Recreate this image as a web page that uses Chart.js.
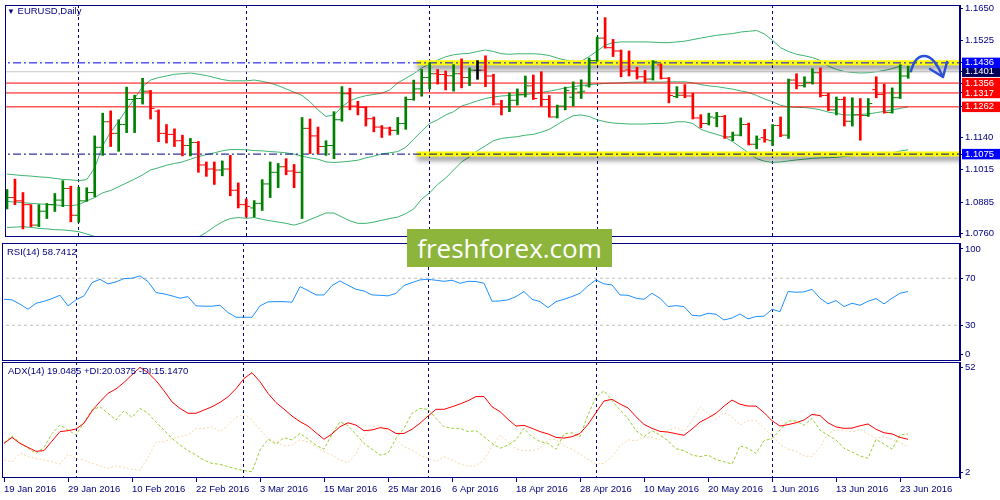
<!DOCTYPE html>
<html>
<head>
<meta charset="utf-8">
<title>EURUSD, Daily</title>
<script src="https://cdn.jsdelivr.net/npm/chart.js@4.4.1/dist/chart.umd.min.js"></script>
<style>
  html, body { margin: 0; padding: 0; background: #fff; }
  body { width: 1000px; height: 500px; position: relative; overflow: hidden; }
  .pane { position: absolute; left: 0; }
  .pane canvas { display: block; }
  .cap { position: absolute; font: 9.5px "Liberation Sans", Arial, sans-serif; color: #000080; line-height: 12px; white-space: nowrap; }
  #wm { position: absolute; left: 407px; top: 229px; width: 205px; height: 38px; background: #8db53c; color: #fff;
        font: 26px "Open Sans", sans-serif; line-height: 38px; text-align: center; }
  svg { position: absolute; left: 0; top: 0; }
</style>
</head>
<body>
<div class="pane" style="top:0"><canvas id="main" width="1000" height="242"></canvas></div>
<div class="pane" style="top:241px"><canvas id="rsi" width="1000" height="121"></canvas></div>
<div class="pane" style="top:361px"><canvas id="adx" width="1000" height="139"></canvas></div>
<div class="cap" style="left:7px;top:5px"><span style="font-size:8px">&#9660;</span> EURUSD,Daily</div>
<div class="cap" style="left:7px;top:246px">RSI(14) 58.7412</div>
<div class="cap" style="left:8px;top:365px">ADX(14) 19.0485 +DI:20.0375 -DI:15.1470</div>
<div id="wm">freshforex.com</div>
<svg width="1000" height="500">
  <path d="M911 71 C914 60, 919 56, 924 56 C930 56, 935 60, 942 75" stroke="#2b4fd6" stroke-width="2.5" fill="none" stroke-linecap="round"/>
  <path d="M930 69 L943 77 L947 62" stroke="#2b4fd6" stroke-width="2.5" fill="none" stroke-linecap="round" stroke-linejoin="round"/>
</svg>
<script>
// bar i sits on trading day i, counting from 19 Jan 2016 (114 daily bars up to 24 Jun)
const dateLabels = ['19 Jan 2016','29 Jan 2016','10 Feb 2016','22 Feb 2016','3 Mar 2016','15 Mar 2016','25 Mar 2016',
  '6 Apr 2016','18 Apr 2016','28 Apr 2016','10 May 2016','20 May 2016','1 Jun 2016','13 Jun 2016','23 Jun 2016'];
const LABEL_STEP = 8;                  // one date label every 8 bars
const monthStarts = [9, 30, 53, 74, 96]; // first bar of Feb..Jun

const opens = [
  1.0890,1.0903,1.0890,1.0875,1.0794,1.0849,1.0875,1.0893,1.0939,1.0833,
  1.0890,1.0923,1.1102,1.1203,1.1157,1.1192,1.1291,1.1295,1.1324,1.1245,
  1.1157,1.1153,1.1128,1.1109,1.1121,1.1032,1.1016,1.1012,1.1016,1.0932,
  1.0875,1.0862,1.0880,1.0957,1.1003,1.1025,1.1008,1.1003,1.1177,1.1147,
  1.1105,1.1109,1.1211,1.1314,1.1265,1.1260,1.1215,1.1182,1.1178,1.1169,
  1.1196,1.1291,1.1333,1.1378,1.1393,1.1390,1.1385,1.1393,1.1378,1.1407,
  1.1407,1.1384,1.1273,1.1262,1.1288,1.1310,1.1345,1.1318,1.1291,1.1222,
  1.1265,1.1300,1.1320,1.1345,1.1445,1.1534,1.1496,1.1483,1.1408,1.1404,
  1.1381,1.1372,1.1428,1.1375,1.1303,1.1308,1.1305,1.1218,1.1196,1.1218,
  1.1224,1.1143,1.1150,1.1192,1.1114,1.1140,1.1128,1.1188,1.1150,1.1368,
  1.1346,1.1359,1.1397,1.1307,1.1250,1.1291,1.1205,1.1230,1.1228,1.1330,
  1.1311,1.1240,1.1298,1.1384];
const highs = [
  1.0935,1.0976,1.0923,1.0875,1.0875,1.0880,1.0919,1.0970,1.0948,1.0944,
  1.0942,1.1147,1.1237,1.1246,1.1211,1.1340,1.1308,1.1375,1.1327,1.1250,
  1.1192,1.1175,1.1150,1.1137,1.1125,1.1044,1.1044,1.1048,1.1070,1.0961,
  1.0897,1.0891,1.0974,1.1044,1.1038,1.1057,1.1034,1.1220,1.1214,1.1182,
  1.1128,1.1243,1.1342,1.1336,1.1284,1.1262,1.1222,1.1188,1.1182,1.1220,
  1.1301,1.1368,1.1410,1.1436,1.1410,1.1404,1.1429,1.1452,1.1416,1.1445,
  1.1464,1.1391,1.1288,1.1317,1.1333,1.1384,1.1388,1.1401,1.1307,1.1269,
  1.1340,1.1361,1.1369,1.1455,1.1538,1.1615,1.1529,1.1487,1.1483,1.1419,
  1.1406,1.1445,1.1432,1.1378,1.1342,1.1350,1.1316,1.1231,1.1237,1.1240,
  1.1228,1.1162,1.1218,1.1198,1.1147,1.1173,1.1192,1.1222,1.1372,1.1393,
  1.1381,1.1413,1.1416,1.1316,1.1301,1.1301,1.1298,1.1295,1.1295,1.1381,
  1.1352,1.1337,1.1429,1.1423];
const lows = [
  1.0858,1.0875,1.0779,1.0788,1.0788,1.0820,1.0848,1.0867,1.0807,1.0805,
  1.0888,1.0906,1.1070,1.1105,1.1086,1.1160,1.1160,1.1273,1.1214,1.1124,
  1.1119,1.1105,1.1068,1.1068,1.1003,1.0987,1.0955,1.0989,1.0910,1.0862,
  1.0826,1.0826,1.0852,1.0903,1.0942,1.0993,1.0942,1.0820,1.1077,1.1077,
  1.1070,1.1057,1.1205,1.1250,1.1230,1.1186,1.1163,1.1141,1.1150,1.1153,
  1.1173,1.1288,1.1304,1.1333,1.1352,1.1329,1.1324,1.1337,1.1346,1.1371,
  1.1342,1.1269,1.1230,1.1243,1.1269,1.1301,1.1291,1.1265,1.1221,1.1218,
  1.1250,1.1265,1.1295,1.1340,1.1442,1.1494,1.1461,1.1381,1.1384,1.1372,
  1.1359,1.1368,1.1372,1.1278,1.1298,1.1298,1.1214,1.1179,1.1190,1.1183,
  1.1137,1.1128,1.1147,1.1111,1.1096,1.1122,1.1109,1.1144,1.1137,1.1333,
  1.1340,1.1352,1.1301,1.1247,1.1230,1.1186,1.1186,1.1130,1.1224,1.1298,
  1.1237,1.1237,1.1295,1.1375];
const closes = [
  1.0903,1.0890,1.0875,1.0794,1.0849,1.0875,1.0893,1.0939,1.0833,1.0890,
  1.0923,1.1102,1.1203,1.1157,1.1192,1.1291,1.1295,1.1324,1.1256,1.1157,
  1.1153,1.1128,1.1109,1.1121,1.1032,1.1016,1.1012,1.1016,1.0932,1.0875,
  1.0868,1.0880,1.0957,1.1003,1.1025,1.1008,1.1003,1.1177,1.1147,1.1105,
  1.1109,1.1211,1.1314,1.1265,1.1260,1.1215,1.1182,1.1178,1.1169,1.1196,
  1.1291,1.1333,1.1378,1.1393,1.1390,1.1385,1.1393,1.1378,1.1407,1.1407,
  1.1384,1.1273,1.1262,1.1288,1.1310,1.1345,1.1295,1.1291,1.1222,1.1265,
  1.1327,1.1333,1.1324,1.1445,1.1534,1.1496,1.1483,1.1404,1.1404,1.1381,
  1.1372,1.1440,1.1375,1.1307,1.1308,1.1305,1.1218,1.1196,1.1222,1.1224,
  1.1143,1.1150,1.1192,1.1114,1.1134,1.1132,1.1188,1.1150,1.1368,1.1346,
  1.1359,1.1397,1.1307,1.1250,1.1291,1.1205,1.1230,1.1228,1.1275,1.1311,
  1.1240,1.1298,1.1384,1.1401];

// Bollinger Bands (20, 2)
const bbUpper = [
  1.0996,1.0993,1.0990,1.0988,1.0985,1.0983,1.0979,1.0975,1.0973,1.0970,
  1.0974,1.1021,1.1108,1.1162,1.1205,1.1252,1.1295,1.1342,1.1368,1.1378,
  1.1384,1.1391,1.1393,1.1396,1.1391,1.1386,1.1378,1.1370,1.1365,1.1365,
  1.1365,1.1368,1.1363,1.1356,1.1346,1.1333,1.1320,1.1307,1.1282,1.1250,
  1.1224,1.1230,1.1262,1.1286,1.1298,1.1306,1.1311,1.1316,1.1329,1.1357,
  1.1375,1.1393,1.1416,1.1432,1.1447,1.1460,1.1468,1.1472,1.1474,1.1481,
  1.1487,1.1481,1.1472,1.1470,1.1472,1.1472,1.1472,1.1470,1.1465,1.1455,
  1.1447,1.1442,1.1442,1.1461,1.1483,1.1506,1.1516,1.1519,1.1519,1.1519,
  1.1519,1.1518,1.1516,1.1516,1.1519,1.1522,1.1528,1.1534,1.1540,1.1545,
  1.1549,1.1552,1.1558,1.1561,1.1564,1.1550,1.1525,1.1496,1.1481,1.1470,
  1.1464,1.1457,1.1445,1.1423,1.1410,1.1402,1.1398,1.1396,1.1397,1.1401,
  1.1406,1.1413,1.1423,1.1439];
const bbMiddle = [
  1.0888,1.0885,1.0883,1.0880,1.0878,1.0876,1.0874,1.0872,1.0871,1.0875,
  1.0890,1.0903,1.0922,1.0931,1.0946,1.0961,1.0976,1.0993,1.1012,1.1021,
  1.1031,1.1038,1.1044,1.1055,1.1065,1.1073,1.1080,1.1088,1.1093,1.1093,
  1.1092,1.1089,1.1088,1.1085,1.1083,1.1080,1.1075,1.1067,1.1060,1.1055,
  1.1044,1.1042,1.1044,1.1047,1.1051,1.1060,1.1067,1.1076,1.1080,1.1085,
  1.1102,1.1134,1.1166,1.1196,1.1211,1.1230,1.1243,1.1265,1.1275,1.1286,
  1.1295,1.1301,1.1305,1.1307,1.1309,1.1311,1.1314,1.1319,1.1324,1.1330,
  1.1337,1.1342,1.1346,1.1350,1.1352,1.1355,1.1356,1.1357,1.1359,1.1360,
  1.1360,1.1360,1.1360,1.1361,1.1361,1.1361,1.1357,1.1350,1.1345,1.1342,
  1.1337,1.1332,1.1325,1.1319,1.1307,1.1293,1.1282,1.1268,1.1262,1.1260,
  1.1259,1.1256,1.1250,1.1241,1.1236,1.1230,1.1230,1.1232,1.1234,1.1239,
  1.1244,1.1250,1.1256,1.1262];
const bbLower = [
  1.0785,1.0786,1.0788,1.0785,1.0781,1.0779,1.0776,1.0775,1.0772,1.0768,
  1.0759,1.0749,1.0730,1.0698,1.0685,1.0666,1.0659,1.0647,1.0653,1.0666,
  1.0679,1.0685,1.0698,1.0717,1.0747,1.0765,1.0788,1.0807,1.0820,1.0824,
  1.0821,1.0824,1.0817,1.0811,1.0806,1.0801,1.0794,1.0803,1.0816,1.0829,
  1.0842,1.0842,1.0826,1.0811,1.0801,1.0801,1.0806,1.0813,1.0820,1.0826,
  1.0839,1.0858,1.0897,1.0922,1.0955,1.0980,1.1012,1.1044,1.1064,1.1089,
  1.1108,1.1128,1.1137,1.1141,1.1144,1.1150,1.1153,1.1162,1.1173,1.1192,
  1.1211,1.1227,1.1230,1.1224,1.1211,1.1203,1.1198,1.1196,1.1194,1.1194,
  1.1194,1.1196,1.1196,1.1198,1.1203,1.1203,1.1196,1.1173,1.1162,1.1153,
  1.1143,1.1124,1.1102,1.1080,1.1057,1.1047,1.1042,1.1044,1.1048,1.1052,
  1.1055,1.1058,1.1060,1.1061,1.1062,1.1066,1.1069,1.1070,1.1070,1.1071,
  1.1074,1.1080,1.1087,1.1092];

const rsi = [
  52.1,51.6,47.9,43.6,48.7,50.4,52.7,55.5,46.5,51.6,
  55.0,66.3,69.1,65.2,66.9,69.7,70.0,72.0,67.2,57.8,
  56.7,55.0,53.0,54.4,46.5,46.2,46.2,47.0,40.8,36.8,
  36.8,36.8,46.5,49.9,50.1,50.1,49.6,62.9,59.5,55.8,
  55.8,63.8,67.7,64.0,60.6,59.2,55.8,55.5,55.0,57.2,
  63.8,66.3,68.6,69.1,68.3,67.4,68.3,65.7,67.4,67.2,
  65.7,50.4,50.7,51.6,54.4,58.7,52.1,50.1,45.0,50.1,
  52.1,54.4,57.2,63.5,68.6,65.2,64.3,55.8,55.5,53.0,
  52.1,57.2,53.0,45.9,46.7,45.9,38.5,37.9,40.2,39.4,
  34.5,36.2,39.6,35.4,37.4,37.7,43.6,41.6,58.7,58.1,
  58.4,60.6,53.0,48.2,51.0,45.9,48.7,47.0,50.4,52.7,
  48.2,53.0,57.2,58.7];

const adx = [
  16.9,19.5,16.9,15.2,13.5,13.8,17.9,22.0,22.4,23.1,
  25.6,30.9,34.9,38.5,40.4,43.2,46.5,49.7,47.4,44.0,
  39.6,34.8,32.0,29.9,29.9,31.3,32.7,34.6,37.0,40.5,
  44.9,47.4,43.5,38.5,34.5,31.7,28.7,26.3,24.4,21.5,
  18.7,21.0,24.1,25.8,24.8,22.4,22.7,23.7,23.2,21.2,
  21.2,23.0,25.6,28.7,31.6,31.6,32.7,33.9,35.3,37.1,
  37.1,32.7,30.6,27.3,24.4,24.7,23.4,22.0,21.0,19.5,
  19.2,19.8,21.2,25.1,30.2,35.2,35.9,33.9,32.2,28.4,
  25.1,23.4,22.1,21.8,21.1,20.4,23.1,26.1,27.9,29.9,
  33.0,35.6,33.8,33.0,33.0,30.2,26.7,24.4,25.0,25.8,
  27.0,29.4,28.9,25.8,24.0,23.4,23.5,24.5,25.3,23.0,
  21.5,21.0,19.5,18.7];
const plusDI = [
  17.2,20.1,17.2,14.8,12.6,15.2,21.2,24.8,22.7,20.5,
  26.0,31.3,32.7,29.9,27.0,31.0,28.1,32.0,29.9,26.1,
  22.7,19.1,16.2,13.8,11.9,9.7,8.3,7.9,6.9,5.9,
  5.2,4.7,14.1,18.7,16.6,19.4,18.4,21.2,18.8,16.1,
  14.4,21.0,26.3,24.6,20.8,16.9,14.4,11.9,12.6,19.1,
  23.4,29.9,32.0,31.6,27.7,24.1,23.4,23.4,22.0,22.4,
  19.8,16.9,14.8,16.2,18.4,23.4,19.8,17.7,16.9,14.4,
  21.0,21.5,19.8,29.2,36.8,39.6,35.3,31.3,27.6,22.4,
  19.8,22.4,20.5,18.1,14.6,13.8,11.9,11.2,11.9,10.0,
  9.0,8.0,15.8,14.8,12.6,18.1,19.0,22.7,26.6,26.6,
  24.7,27.7,22.7,20.4,18.4,14.8,13.2,11.5,10.5,18.7,
  16.6,14.4,20.5,21.0];
const minusDI = [
  9.7,9.0,12.6,11.2,10.5,9.7,9.0,8.0,12.3,10.5,
  9.7,8.3,7.2,6.2,7.2,6.6,5.7,5.4,10.9,17.5,
  17.6,19.0,19.8,20.5,23.3,23.3,24.1,22.0,24.7,28.1,
  29.4,27.0,22.7,19.1,17.5,15.8,16.2,18.4,17.5,15.2,
  13.3,11.9,9.7,8.6,12.3,19.8,24.1,24.7,21.5,18.4,
  15.5,14.1,11.9,10.5,9.0,11.2,9.7,8.0,7.2,7.2,
  10.0,15.5,20.5,17.7,14.6,13.8,13.8,14.8,18.4,18.7,
  15.8,14.4,12.2,10.0,8.0,8.3,11.2,15.8,18.4,18.1,
  19.5,19.5,18.4,22.4,23.8,22.1,26.7,32.7,29.9,27.3,
  30.2,28.4,24.8,26.7,26.7,23.4,20.5,16.4,14.4,13.5,
  11.5,11.2,15.2,21.2,22.7,22.7,21.8,23.0,21.0,19.2,
  19.8,18.7,17.2,15.5];

const priceTicks = [1.1650, 1.1525, 1.1140, 1.1015, 1.0885, 1.0760];
const zoneLevels = [1.1436, 1.1075];   // yellow zones + dash-dot lines
const zoneStart = 51.4;                // zones drawn from this bar onward
const redLevels = [1.1356, 1.1317, 1.1262];
const bidPrice = 1.1401;
const rsiTicks = [0, 30, 70, 100];
const rsiLevels = [30, 70];
const adxTicks = [2, 52];

// ---------- setup ----------
const NAVY = '#000080';
const FONT = { family: '"Liberation Sans", Arial, sans-serif', size: 9.5, lineHeight: 1.1 };
const X_MIN = -0.25, X_MAX = 119.5;
const TICK_OFF = 0.3125;  // open/close tick offset, in bars
const pts = arr => arr.map((v, i) => ({ x: i, y: v }));
const barColor = closes.map((c, i) => c > opens[i] ? '#008000' : c < opens[i] ? '#ff0000' : '#000000');

const tags = [
  [zoneLevels[0], '#0000ff'], [bidPrice, '#00005a'],
  ...redLevels.map(v => [v, '#ff0000']), [zoneLevels[1], '#0000ff']
];
const tagColor = v => { const t = tags.find(t => Math.abs(t[0] - v) < 1e-9); return t ? t[1] : null; };

const framePlugin = {
  id: 'frame',
  afterDraw(chart) {
    const { ctx, chartArea: a } = chart;
    ctx.save();
    ctx.strokeStyle = NAVY;
    ctx.lineWidth = 1;
    ctx.strokeRect(Math.round(a.left) + 0.5, Math.round(a.top) + 0.5,
      Math.round(a.right - a.left) - 1, Math.round(a.bottom - a.top) - 1);
    ctx.restore();
  }
};
const shadowPlugin = {
  id: 'shadow',
  beforeDatasetDraw(chart, args) {
    if (!chart.data.datasets[args.index].shadow) return;
    const c = chart.ctx;
    c.save();
    c.shadowColor = 'rgba(0,0,0,0.45)';
    c.shadowBlur = 5;
    c.shadowOffsetY = 4;
  },
  afterDatasetDraw(chart, args) {
    if (chart.data.datasets[args.index].shadow) chart.ctx.restore();
  }
};

function sepAxis() {
  return {
    type: 'linear', position: 'top', min: X_MIN, max: X_MAX, offset: false, bounds: 'data',
    afterBuildTicks: ax => { ax.ticks = monthStarts.map(v => ({ value: v })); },
    afterFit: ax => { ax.height = 0; ax.paddingLeft = 0; ax.paddingRight = 0; },
    ticks: { display: false },
    grid: { color: NAVY, lineWidth: 1, drawTicks: false, offset: false },
    border: { display: false, dash: [3, 3] }
  };
}

// edge labels of the sub-windows sit a little inside the panel
function edgeTicks(values, min, max, inset) {
  return values.map(v => ({ value: v === max ? v - inset : v === min ? v + inset : v, text: String(v) }));
}

function sideAxis(min, max, tickList, tickOpts) {
  return {
    type: 'linear', position: 'right', min, max, bounds: 'data',
    afterBuildTicks: ax => { ax.ticks = tickList.map(t => ({ ...t })); },
    afterFit: ax => { ax.width = 40; ax.paddingTop = 0; ax.paddingBottom = 0; },
    grid: { drawOnChartArea: false, tickLength: 3, color: NAVY },
    border: { color: NAVY },
    ticks: Object.assign({ autoSkip: false, padding: 2, font: FONT, color: NAVY,
      callback: (v, k, ticks) => ticks[k].text }, tickOpts)
  };
}

function hLine(y, color, extra) {
  return Object.assign({
    type: 'line', data: [{ x: X_MIN - 1, y }, { x: X_MAX + 1, y }],
    borderColor: color, borderWidth: 1, pointRadius: 0, order: 3
  }, extra);
}

function options(scales, padding) {
  return {
    responsive: false, animation: false, events: [],
    layout: { padding },
    plugins: { legend: { display: false }, tooltip: { enabled: false } },
    scales
  };
}

// ---------- main price window ----------
const mainTicks = [...priceTicks, ...tags.map(t => t[0])]
  .sort((a, b) => a - b)
  .map(v => ({ value: v, text: v.toFixed(4) }));

new Chart(document.getElementById('main'), {
  type: 'line',
  data: {
    datasets: [
      { type: 'bar', data: lows.map((l, i) => ({ x: i, y: [l, highs[i]] })),
        backgroundColor: barColor, barThickness: 2, borderWidth: 0, order: 0 },
      { type: 'scatter', data: opens.map((v, i) => ({ x: i - TICK_OFF, y: v })),
        pointStyle: 'line', pointRadius: 1.5, pointBorderWidth: 1,
        pointBorderColor: barColor, pointBackgroundColor: barColor, order: 0 },
      { type: 'scatter', data: closes.map((v, i) => ({ x: i + TICK_OFF, y: v })),
        pointStyle: 'line', pointRadius: 1.5, pointBorderWidth: 1,
        pointBorderColor: barColor, pointBackgroundColor: barColor, order: 0 },
      hLine(zoneLevels[0], '#0000ff', { borderDash: [8, 3, 2, 3], order: 1 }),
      hLine(zoneLevels[1], '#000080', { borderDash: [8, 3, 2, 3], order: 1 }),
      ...zoneLevels.map(v => ({
        type: 'line', data: [{ x: zoneStart, y: v }, { x: X_MAX + 1, y: v }],
        borderColor: '#ffff00', borderWidth: 5, pointRadius: 0, shadow: true, clip: 0, order: 2
      })),
      ...redLevels.map(v => hLine(v, '#ff0000')),
      hLine(bidPrice, '#c8c8c8'),
      ...[bbUpper, bbMiddle, bbLower].map(arr => ({
        type: 'line', data: pts(arr), borderColor: '#3cb371', borderWidth: 1, pointRadius: 0, order: 4
      }))
    ]
  },
  options: options({
    x: sepAxis(),
    y: sideAxis(1.0747, 1.1665, mainTicks, {
      color: c => (c.tick && tagColor(c.tick.value)) ? '#ffffff' : NAVY,
      showLabelBackdrop: c => !!(c.tick && tagColor(c.tick.value)),
      backdropColor: c => (c.tick && tagColor(c.tick.value)) || 'rgba(0,0,0,0)',
      backdropPadding: { left: 3, right: 10, top: 0, bottom: 0 }
    })
  }, { left: 2, top: 2, right: 0, bottom: 1.5 }),
  plugins: [shadowPlugin, framePlugin]
});

// ---------- RSI window ----------
new Chart(document.getElementById('rsi'), {
  type: 'line',
  data: {
    datasets: [
      { data: pts(rsi), borderColor: '#1e90ff', borderWidth: 1, pointRadius: 0, order: 0 },
      ...rsiLevels.map(v => hLine(v, '#c0c0c0', { borderDash: [3, 3] }))
    ]
  },
  options: options({
    x: sepAxis(),
    y: sideAxis(0, 100, edgeTicks(rsiTicks, 0, 100, 5))
  }, { left: 2, top: 2, right: 0, bottom: 1.5 }),
  plugins: [framePlugin]
});

// ---------- ADX window ----------
new Chart(document.getElementById('adx'), {
  type: 'line',
  data: {
    datasets: [
      { data: pts(adx), borderColor: '#ff0000', borderWidth: 1, pointRadius: 0, order: 0 },
      { data: pts(plusDI), borderColor: '#9acd32', borderWidth: 1, borderDash: [3, 2], pointRadius: 0, order: 1 },
      { data: pts(minusDI), borderColor: '#f5d7a8', borderWidth: 1, borderDash: [2, 2], pointRadius: 0, order: 2 }
    ]
  },
  options: options({
    x: sepAxis(),
    xl: {
      type: 'linear', position: 'bottom', min: X_MIN, max: X_MAX, offset: false, bounds: 'data',
      afterBuildTicks: ax => { ax.ticks = dateLabels.map((_, k) => ({ value: k * LABEL_STEP })); },
      afterFit: ax => { ax.height = 22; ax.paddingLeft = 0; ax.paddingRight = 0; },
      grid: { drawOnChartArea: false, tickLength: 4, color: NAVY, offset: false },
      border: { display: false },
      ticks: { autoSkip: false, maxRotation: 0, align: 'start', padding: 2, font: FONT, color: NAVY,
        callback: (v, k) => dateLabels[k] }
    },
    y: sideAxis(2, 52, edgeTicks(adxTicks, 2, 52, 2.5))
  }, { left: 2, top: 1, right: 0, bottom: 0 }),
  plugins: [framePlugin]
});
</script>
</body>
</html>
